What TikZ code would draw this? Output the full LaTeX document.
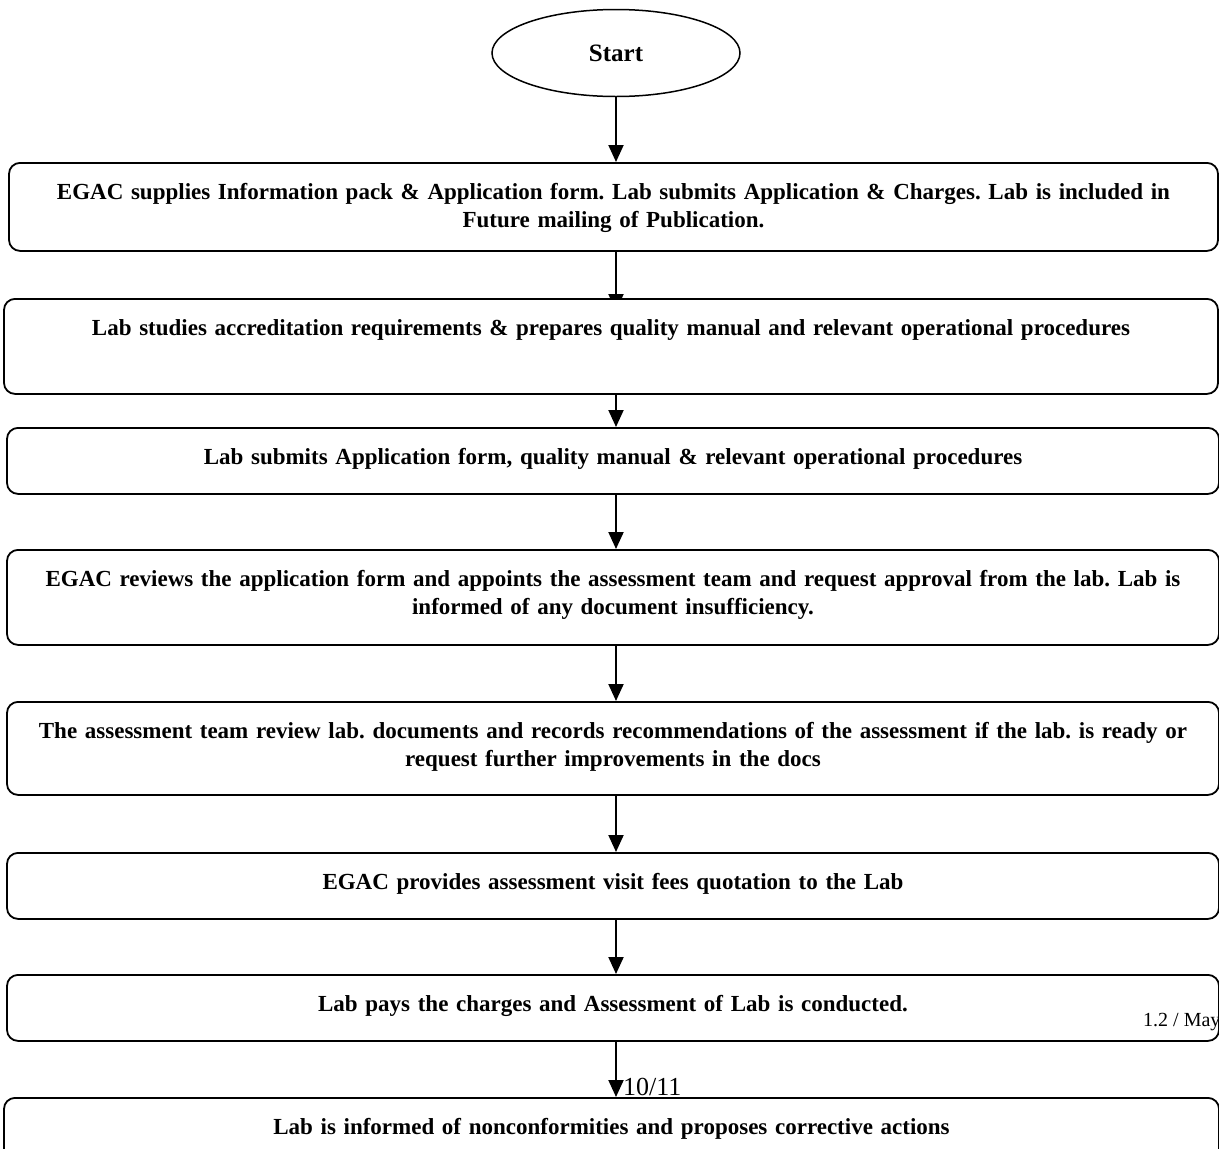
\documentclass[tikz,border=0pt]{standalone}
\usepackage{fontspec}
\setmainfont{Liberation Serif}
\usepackage{tikz}
\usetikzlibrary{shapes.geometric,arrows.meta,backgrounds}
\tikzset{
    stepbox/.style={draw, line width=1.8pt, rounded corners=11pt, fill=white, anchor=north,
        inner sep=0pt, text width=1208pt, align=center,
        font=\frenchspacing\bfseries\fontsize{23}{27.5}\selectfont, text height=37pt},
    startnode/.style={draw, ellipse, line width=1.5pt, minimum width=248pt, minimum height=87pt,
        inner sep=0pt, font=\bfseries\fontsize{25}{25}\selectfont},
    flow/.style={-{Triangle[length=17pt,width=15pt]}, line width=2pt},
    pagemark/.style={anchor=base west, inner sep=0pt},
}

\begin{document}
\begin{tikzpicture}[x=1pt,y=-1pt]
    \useasboundingbox (0,0) rectangle (1219,1149);
    \node[startnode] (st) at (616,53) {Start};
    \node[stepbox, minimum width=1209pt, text depth=51pt] (b1) at (613.5,162)
        {EGAC supplies Information pack \& Application form. Lab submits Application \& Charges. Lab is included in\\ Future mailing of Publication.};
    \node[stepbox, minimum width=1214pt, text depth=58pt] (b2) at (611,298)
        {Lab studies accreditation requirements \& prepares quality manual and relevant operational procedures};
    \node[stepbox, minimum width=1212pt, text depth=29pt] (b3) at (613,427)
        {Lab submits Application form, quality manual \& relevant operational procedures};
    \node[stepbox, minimum width=1212pt, text depth=58pt] (b4) at (613,549)
        {EGAC reviews the application form and appoints the assessment team and request approval from the lab. Lab is\\ informed of any document insufficiency.};
    \node[stepbox, minimum width=1212pt, text depth=56pt] (b5) at (613,701)
        {The assessment team review lab. documents and records recommendations of the assessment if the lab. is ready or\\ request further improvements in the docs};
    \node[stepbox, minimum width=1212pt, text depth=29pt] (b6) at (613,852)
        {EGAC provides assessment visit fees quotation to the Lab};
    \node[stepbox, minimum width=1212pt, text depth=29pt] (b7) at (613,974)
        {Lab pays the charges and Assessment of Lab is conducted.};
    \node[stepbox, minimum width=1215pt, text depth=63pt] (b8) at (611.5,1097)
        {Lab is informed of nonconformities and proposes corrective actions};
    \node[pagemark, font=\fontsize{26}{26}\selectfont] (pg) at (623,1095) {10/11};
    \node[pagemark, font=\fontsize{20}{20}\selectfont] (ver) at (1143,1026) {1.2 / May};
    \begin{scope}[on background layer]
        \draw[flow] (st.south) -- (b1.north -| st);
        % head runs under the next box
        \draw[flow, shorten >=-13pt] (b1.south -| st) -- (b2.north -| st);
        \draw[flow] (b2.south -| st) -- (b3.north -| st);
        \draw[flow] (b3.south -| st) -- (b4.north -| st);
        \draw[flow] (b4.south -| st) -- (b5.north -| st);
        \draw[flow] (b5.south -| st) -- (b6.north -| st);
        \draw[flow] (b6.south -| st) -- (b7.north -| st);
        \draw[flow] (b7.south -| st) -- (b8.north -| st);
    \end{scope}
\end{tikzpicture}
\end{document}
